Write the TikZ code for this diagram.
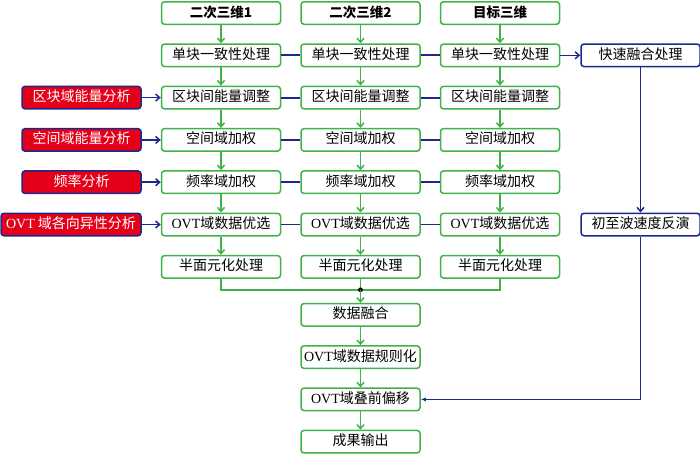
\documentclass[tikz,border=0pt]{standalone}
\usepackage{fontspec}
\setmainfont{Liberation Serif}
\newfontfamily\cjk{Noto Sans CJK SC}
\usetikzlibrary{arrows.meta,positioning,calc}

\definecolor{boxgreen}{RGB}{64,178,72}
\definecolor{navy}{RGB}{30,40,140}
\definecolor{alertred}{RGB}{228,0,24}

\begin{document}
\begin{tikzpicture}[
    x=1pt, y=1pt,
    font=\fontsize{14}{16}\selectfont\cjk,
    box/.style={draw=boxgreen, line width=1.5pt, rounded corners=3pt,
                minimum width=119pt, minimum height=22.5pt, inner sep=1pt,
                text height=10.5pt, text depth=2.5pt, fill=white},
    head/.style={box, font=\fontsize{13.5}{16}\selectfont\cjk\bfseries},
    ana/.style={box, draw=navy, fill=alertred, text=white},
    blu/.style={box, draw=navy},
    garr/.style={-{Straight Barb[length=4pt,width=7pt]}, boxgreen, line width=1.5pt},
    barr/.style={-{Straight Barb[length=4pt,width=7pt]}, navy, line width=1.5pt},
    link/.style={navy, line width=1.8pt},
    node distance=18.3pt and 19pt,
    ]
\useasboundingbox (0,0) rectangle (700,-453);

% ---- input volumes ----
\node[head] (h1) at (221,-13) {二次三维1};
\node[head, right=of h1] (h2) {二次三维2};
\node[head, right=of h2] (h3) {目标三维};

% ---- column 1 ----
\node[box, below=of h1] (u1) {单块一致性处理};
\node[box, below=of u1] (e1) {区块间能量调整};
\node[box, below=of e1] (s1) {空间域加权};
\node[box, below=of s1] (f1) {频率域加权};
\node[box, below=of f1] (o1) {{\rmfamily OVT}域数据优选};
\node[box, below=of o1] (m1) {半面元化处理};

% ---- column 2 ----
\node[box, below=of h2] (u2) {单块一致性处理};
\node[box, below=of u2] (e2) {区块间能量调整};
\node[box, below=of e2] (s2) {空间域加权};
\node[box, below=of s2] (f2) {频率域加权};
\node[box, below=of f2] (o2) {{\rmfamily OVT}域数据优选};
\node[box, below=of o2] (m2) {半面元化处理};

% ---- column 3 ----
\node[box, below=of h3] (u3) {单块一致性处理};
\node[box, below=of u3] (e3) {区块间能量调整};
\node[box, below=of e3] (s3) {空间域加权};
\node[box, below=of s3] (f3) {频率域加权};
\node[box, below=of f3] (o3) {{\rmfamily OVT}域数据优选};
\node[box, below=of o3] (m3) {半面元化处理};

% ---- analyses (left) ----
\node[ana, left=of e1] (ea) {区块域能量分析};
\node[ana, left=of s1] (sa) {空间域能量分析};
\node[ana, left=of f1] (fa) {频率分析};
\node[ana, left=of o1, minimum width=140pt] (oa) {{\rmfamily OVT} 域各向异性分析};

% ---- velocity branch (right) ----
\node[blu, right=20pt of u3] (fast) {快速融合处理};
\node[blu] (inv) at (fast |- o3) {初至波速度反演};

% ---- merged chain ----
\coordinate (mg) at ($(m2.south)+(0,-11)$);
\node[box, below=24pt of m2] (fuse) {数据融合};
\node[box, below=of fuse] (reg) {{\rmfamily OVT}域数据规则化};
\node[box, below=of reg] (migr) {{\rmfamily OVT}域叠前偏移};
\node[box, below=of migr] (res) {成果输出};

% ---- edges ----
\foreach \a/\b in {h1/u1,u1/e1,e1/s1,s1/f1,f1/o1,o1/m1,
                   h2/u2,u2/e2,e2/s2,s2/f2,f2/o2,o2/m2,
                   h3/u3,u3/e3,e3/s3,s3/f3,f3/o3,o3/m3,
                   fuse/reg,reg/migr,migr/res}
  \draw[garr] (\a) -- (\b);

\foreach \r in {u,e,s,f,o}
  \draw[link] (\r1) -- (\r2) -- (\r3);

\draw[barr] (ea) -- (e1);
\draw[barr] (sa) -- (s1);
\draw[barr] (fa) -- (f1);
\draw[barr] (oa) -- (o1);

% merge of the three volumes
\draw[boxgreen, line width=1.5pt] (m1.south) |- (mg) -| (m3.south);
\draw[boxgreen, line width=1.5pt] (m2.south) -- (mg);
\fill (mg) circle (2.4pt);
\draw[garr] (mg) -- (fuse);

\draw[barr] (u3) -- (fast);
\draw[barr] (fast) -- (inv);
\draw[navy, line width=1.1pt, -{Latex[length=5pt,width=4pt]}] (inv) |- (migr);
\end{tikzpicture}
\end{document}
